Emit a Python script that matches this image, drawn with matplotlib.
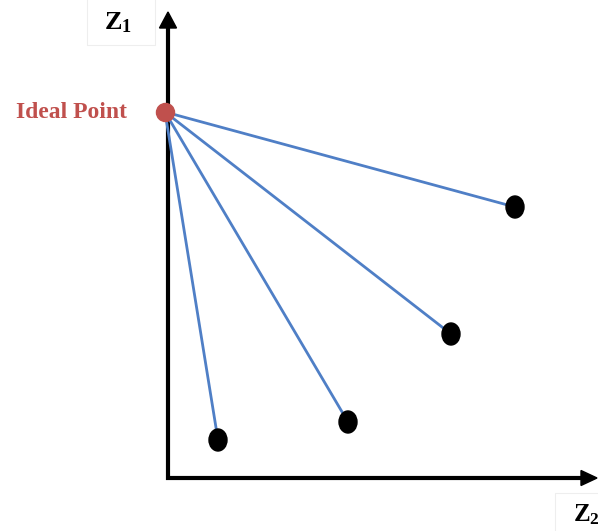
import matplotlib.pyplot as plt
from matplotlib.patches import Ellipse, Rectangle, Polygon

# values in diagram units, origin at the axes corner
ideal = (-3, 366)
points_x = [347, 283, 180, 50]
points_y = [271, 144, 56, 38]
x_label = "Z$_2$"
y_label = "Z$_1$"
ideal_label = "Ideal Point"

plt.rcParams['font.family'] = ['Liberation Serif', 'DejaVu Serif']
plt.rcParams['mathtext.fontset'] = 'custom'
plt.rcParams['mathtext.rm'] = 'Liberation Serif:bold'
plt.rcParams['mathtext.it'] = 'Liberation Serif:bold'
plt.rcParams['mathtext.bf'] = 'Liberation Serif:bold'

fig = plt.figure(figsize=(5.98, 5.31), dpi=100)
ax = fig.add_axes([0, 0, 1, 1])
ax.set_xlim(-168, 430)
ax.set_ylim(-53, 478)
ax.axis('off')

line_blue = '#4f7fc6'
red = '#c0504d'

# axes with arrow heads
ax.plot([0, 0, 416], [453, 0, 0], color='black', lw=3,
        solid_joinstyle='miter', solid_capstyle='butt', zorder=1)
ax.add_patch(Polygon([(0, 466), (-8.5, 450), (8.5, 450)], closed=True,
                     color='black', zorder=1))
ax.add_patch(Polygon([(429, 0), (413, 7.5), (413, -7.5)], closed=True,
                     color='black', zorder=1))

# lines from the ideal point
for px, py in zip(points_x, points_y):
    ax.plot([ideal[0], px], [ideal[1], py], color=line_blue, lw=2, zorder=2)
    ax.add_patch(Ellipse((px, py), 18, 22, color='black', zorder=3))

ax.plot(*ideal, 'o', color=red, markersize=13, zorder=4)

# labels
ax.text(-96, 365, ideal_label, color=red, fontsize=17, fontweight='bold',
        ha='center', va='center')
ax.add_patch(Rectangle((-81, 433), 68, 60, fill=False, ec='#eeeeee', lw=0.8))
ax.text(-50, 455, y_label, fontsize=19, fontweight='bold', ha='center', va='center')
ax.add_patch(Rectangle((387, -60), 60, 45, fill=False, ec='#eeeeee', lw=0.8))
ax.text(418, -37, x_label, fontsize=18, fontweight='bold', ha='center', va='center')

fig.savefig('out.png', dpi=100)
